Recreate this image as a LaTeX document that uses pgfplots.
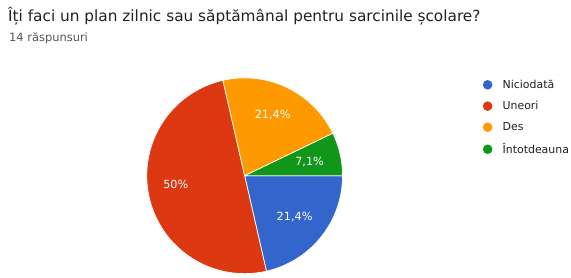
\documentclass[border=0pt]{standalone}
\usepackage{pgfplots}
\pgfplotsset{compat=1.18}
\usepackage{fontspec}
\setmainfont{DejaVu Sans}
\definecolor{gblue}{HTML}{3366CC}
\definecolor{gred}{HTML}{DC3912}
\definecolor{gorange}{HTML}{FF9900}
\definecolor{ggreen}{HTML}{109618}
\definecolor{ttl}{HTML}{212121}
\definecolor{sub}{HTML}{555555}
% counts of answers (14 in total)
\def\nA{3}\def\nB{7}\def\nC{3}\def\nD{1}\def\nT{14}
\pgfmathsetmacro{\aA}{0}
\pgfmathsetmacro{\aB}{\aA-360*\nA/\nT}
\pgfmathsetmacro{\aC}{\aB-360*\nB/\nT}
\pgfmathsetmacro{\aD}{\aC-360*\nC/\nT}
\pgfmathsetmacro{\aE}{\aD-360*\nD/\nT}
\def\cx{245}\def\cy{102}\def\R{98}
\begin{document}
\begin{tikzpicture}
\begin{axis}[
  width=571bp, height=278bp, scale only axis,
  xmin=0, xmax=571, ymin=0, ymax=278,
  hide axis, clip=false,
  legend style={at={(axis cs:483.5,200)}, anchor=north west, draw=none, fill=none,
    font=\fontsize{11}{13}\selectfont\color{ttl}, row sep=7.5bp,
    inner sep=0pt, outer sep=0pt, cells={anchor=west}},
  legend image code/.code={\fill[draw=none] (0,0) circle (4.8bp); \path[draw=none,fill=none] (0,0) -- (13bp,0);},
]
\path (rel axis cs:0,0) rectangle (rel axis cs:1,1);
\addplot[fill=gblue, draw=white, line width=0.7pt, domain=\aB:\aA, samples=60, variable=\t]
  ({\cx+\R*cos(\t)}, {\cy+\R*sin(\t)}) -- (axis cs:\cx,\cy) -- cycle;
\addlegendentry{Niciodată}
\addplot[fill=gred, draw=white, line width=0.7pt, domain=\aC:\aB, samples=100, variable=\t]
  ({\cx+\R*cos(\t)}, {\cy+\R*sin(\t)}) -- (axis cs:\cx,\cy) -- cycle;
\addlegendentry{Uneori}
\addplot[fill=gorange, draw=white, line width=0.7pt, domain=\aD:\aC, samples=60, variable=\t]
  ({\cx+\R*cos(\t)}, {\cy+\R*sin(\t)}) -- (axis cs:\cx,\cy) -- cycle;
\addlegendentry{Des}
\addplot[fill=ggreen, draw=white, line width=0.7pt, domain=\aE:\aD, samples=30, variable=\t]
  ({\cx+\R*cos(\t)}, {\cy+\R*sin(\t)}) -- (axis cs:\cx,\cy) -- cycle;
\addlegendentry{Întotdeauna}
\node[anchor=base west, inner sep=0pt, text=ttl, font=\fontsize{15.4}{17}\selectfont] at (axis cs:8,256) {Îți faci un plan zilnic sau săptămânal pentru sarcinile școlare?};
\node[anchor=base west, inner sep=0pt, text=sub, font=\fontsize{11.5}{13}\selectfont] at (axis cs:9,236) {14 răspunsuri};
\node[text=white, font=\fontsize{11.3}{13}\selectfont] at (axis cs:295,61) {21,4\%};
\node[text=white, font=\fontsize{11.3}{13}\selectfont] at (axis cs:176,93) {50\%};
\node[text=white, font=\fontsize{11.3}{13}\selectfont] at (axis cs:273,163) {21,4\%};
\node[text=white, font=\fontsize{11.3}{13}\selectfont] at (axis cs:310,116) {7,1\%};
\end{axis}
\end{tikzpicture}
\end{document}
